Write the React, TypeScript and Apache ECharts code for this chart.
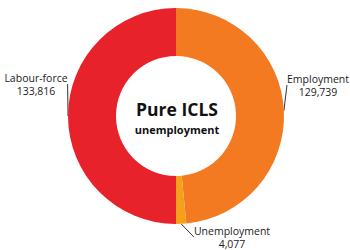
import React, { useEffect, useRef } from "react";
import * as echarts from "echarts";

const categories = ["Employment", "Unemployment", "Labour-force"];
const values = [129739, 4077, 133816];
const colors = ["#F47A21", "#F5A01A", "#E8222B"];
const centerTitle = "Pure ICLS";
const centerSubtitle = "unemployment";

const labelPos: Record<string, { x: number; y: number }> = {
  "Employment": { x: 318, y: 85 },
  "Unemployment": { x: 232, y: 237 },
  "Labour-force": { x: 36, y: 84 },
};

export default function App() {
  const ref = useRef<HTMLDivElement>(null);
  useEffect(() => {
    if (!ref.current) return;
    const chart = echarts.init(ref.current, undefined, { renderer: "svg" });
    chart.setOption({
      animation: false,
      backgroundColor: "#ffffff",
      graphic: [
        {
          type: "text",
          x: 177,
          y: 109,
          style: {
            text: centerTitle,
            font: "bold 17.5px 'Open Sans', sans-serif",
            fill: "#111",
            align: "center",
            verticalAlign: "middle",
          },
        },
        {
          type: "text",
          x: 177,
          y: 129,
          style: {
            text: centerSubtitle,
            font: "bold 11px 'Open Sans', sans-serif",
            fill: "#111",
            align: "center",
            verticalAlign: "middle",
          },
        },
      ],
      series: [
        {
          type: "pie",
          center: [176, 116],
          radius: [60, 108],
          startAngle: 90,
          clockwise: true,
          data: categories.map((c, i) => ({
            name: c,
            value: values[i],
            itemStyle: { color: colors[i] },
          })),
          label: {
            show: true,
            formatter: (p: any) =>
              p.name + "\n" + Number(p.value).toLocaleString("en-US"),
            fontFamily: "'Open Sans', sans-serif",
            fontSize: 10.5,
            lineHeight: 13,
            color: "#222",
            align: "center",
            overflow: "none",
          },
          labelLine: {
            show: true,
            length: 10,
            length2: 0,
            lineStyle: { color: "#333", width: 1 },
          },
          labelLayout: (params: any) => {
            const name = categories[params.dataIndex];
            const p = labelPos[name];
            return {
              x: p.x,
              y: p.y,
              align: "center",
              verticalAlign: "middle",
            };
          },
        },
      ],
    });
    return () => chart.dispose();
  }, []);
  return (
    <div
      ref={ref}
      style={{ position: "fixed", left: 0, top: 0, width: 350, height: 250 }}
    />
  );
}
